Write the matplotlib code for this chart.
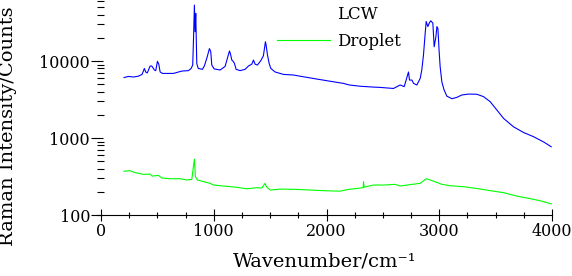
import matplotlib.pyplot as plt
from matplotlib.ticker import LogLocator, MultipleLocator, NullFormatter

plt.rcParams["font.family"] = ["DejaVu Serif"]

# LCW spectrum (blue)
lcw_wn = [204, 242, 290, 330, 364, 384, 396, 410, 435, 450, 473, 485, 500, 512,
          524, 545, 642, 716, 775, 799, 813, 819, 828, 834, 840, 849, 862, 899,
          916, 940, 961, 973, 982, 1003, 1056, 1100, 1121, 1139, 1147, 1160,
          1174, 1183, 1198, 1233, 1278, 1307, 1337, 1352, 1366, 1387, 1417,
          1440, 1458, 1464, 1476, 1491, 1506, 1544, 1618, 1706, 1795, 1914,
          2032, 2150, 2203, 2300, 2400, 2476, 2594, 2653, 2689, 2727, 2736,
          2757, 2772, 2801, 2831, 2845, 2860, 2875, 2884, 2899, 2913, 2925,
          2943, 2955, 2970, 2979, 2988, 2999, 3008, 3023, 3043, 3067, 3112,
          3156, 3200, 3260, 3333, 3392, 3452, 3511, 3570, 3658, 3747, 3836,
          3925, 3993]
lcw_counts = [6100, 6300, 6200, 6350, 6700, 8000, 7200, 7000, 8600, 8600, 7640,
              7500, 9900, 9100, 7200, 6900, 6900, 7400, 7500, 8000, 8870, 16900,
              53300, 24000, 41500, 9300, 8000, 7800, 8600, 11100, 14500, 13300,
              8870, 7900, 7640, 8500, 10900, 13500, 12500, 10300, 9800, 9300,
              7800, 7500, 7800, 8600, 9100, 10300, 9100, 8870, 10100, 11700,
              17800, 16100, 12000, 9300, 8000, 7200, 6700, 6580, 6240, 5830,
              5460, 5120, 4880, 4700, 4600, 4540, 4400, 4880, 4650, 7200, 5660,
              5660, 5120, 4880, 5950, 7640, 12000, 22800, 32600, 28000, 31500,
              33300, 31000, 15300, 20600, 28000, 26500, 13200, 8400, 5350, 4200,
              3500, 3240, 3370, 3620, 3720, 3700, 3450, 2960, 2310, 1800, 1400,
              1180, 1040, 890, 770]

# Droplet spectrum (green)
drop_wn = [204, 257, 302, 375, 435, 455, 509, 538, 612, 701, 760, 805, 819, 828,
           837, 855, 923, 967, 997, 1085, 1204, 1293, 1381, 1426, 1455, 1467,
           1500, 1588, 1736, 1854, 1972, 2060, 2121, 2194, 2269, 2313, 2325,
           2328, 2334, 2416, 2505, 2609, 2653, 2742, 2831, 2884, 2919, 2979,
           3023, 3097, 3215, 3333, 3452, 3570, 3688, 3807, 3895, 3999]
drop_counts = [370, 376, 355, 337, 340, 320, 327, 302, 296, 296, 285, 290, 424,
               530, 314, 285, 268, 258, 245, 238, 229, 219, 226, 224, 258, 233,
               211, 217, 215, 211, 207, 205, 204, 215, 221, 226, 226, 270, 230,
               245, 245, 250, 238, 248, 258, 296, 285, 265, 250, 240, 233, 221,
               207, 195, 176, 163, 153, 139]

fig = plt.figure(figsize=(5.72, 2.76), dpi=100)
ax = fig.add_axes([97 / 572, 61 / 276, 455 / 572, 215 / 276])

l1, = ax.plot(lcw_wn, lcw_counts, color="#0000ff", lw=0.8, label="LCW")
l2, = ax.plot(drop_wn, drop_counts, color="#00ff00", lw=0.8, label="Droplet")

ax.set_yscale("log")
ax.set_xlim(-36, 4000)
ax.set_ylim(100, 62000)

ax.set_xticks([0, 1000, 2000, 3000, 4000])
ax.xaxis.set_minor_locator(MultipleLocator(250))
ax.set_yticks([100, 1000, 10000], ["100", "1000", "10000"])
ax.yaxis.set_minor_locator(LogLocator(base=10, subs=range(2, 10)))
ax.yaxis.set_minor_formatter(NullFormatter())

for s in ["top", "right", "left"]:
    ax.spines[s].set_visible(False)

ax.tick_params(axis="x", which="major", direction="inout", length=8, width=0.8,
               labelsize=11.5, pad=2)
ax.tick_params(axis="x", which="minor", direction="inout", length=4, width=0.8)
ax.tick_params(axis="y", which="major", direction="inout", length=8, width=0.8,
               labelsize=11.5, pad=1)
ax.tick_params(axis="y", which="minor", direction="in", length=5, width=0.8)

ax.set_xlabel("Wavenumber/cm\u207b\u00b9", fontsize=14, labelpad=9)
ax.set_ylabel("Raman Intensity/Counts", fontsize=14)
ax.yaxis.set_label_coords(-0.176, 0.414)

leg = ax.legend(frameon=False, loc="upper left", bbox_to_anchor=(0.363, 1.04),
                fontsize=12, handlelength=3.2, handletextpad=0.4, labelspacing=0.55)
leg.get_lines()[0].set_visible(False)

fig.savefig("out.png", dpi=100)
